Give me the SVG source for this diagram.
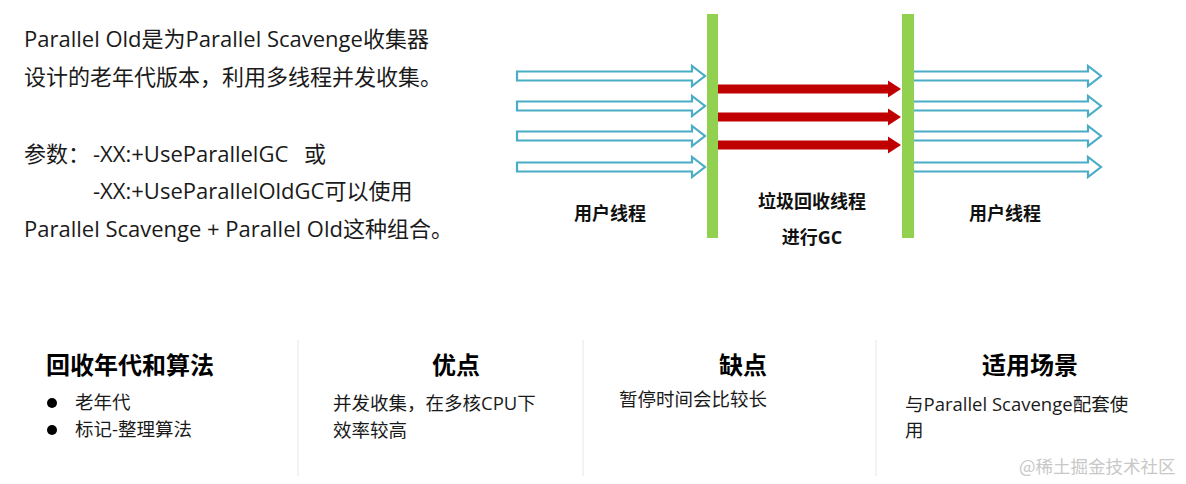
<svg xmlns="http://www.w3.org/2000/svg" width="1186" height="484" viewBox="0 0 1186 484">
<defs>
<style>
.t{font-family:"Open Sans","Noto Sans CJK SC",sans-serif;fill:#1a1a1a}
.main{font-size:22px}
.hd{font-size:24px;font-weight:bold;fill:#000}
.bd{font-size:18.5px}
.lb{font-size:18px;font-weight:bold;fill:#111;text-anchor:middle}
.bar{fill:#92D050}
.ua{fill:#fff;stroke:#4BACC6;stroke-width:2.2}
.ga{fill:#C00000}
.sep{stroke:#e6e6e6;stroke-width:1}
.wm{font-family:"Noto Sans CJK SC",sans-serif;font-size:17.5px;fill:#c8c8c8}
</style>
<polygon id="ua" points="0,-4.5 175,-4.5 175,-10 188,0 175,10 175,4.5 0,4.5"/>
<polygon id="ra" points="0,-4.5 170,-4.5 170,-8.5 183,0 170,8.5 170,4.5 0,4.5"/>
</defs>
<rect width="1186" height="484" fill="#fff"/>
<g id="intro">
<text class="t main" x="24" y="47">Parallel Old是为Parallel Scavenge收集器</text>
<text class="t main" x="24" y="85">设计的老年代版本，利用多线程并发收集。</text>
<text class="t main" x="24" y="162">参数：</text>
<text class="t main" x="93" y="162">-XX:+UseParallelGC</text>
<text class="t main" x="304" y="162">或</text>
<text class="t main" x="93" y="199">-XX:+UseParallelOldGC可以使用</text>
<text class="t main" x="24" y="237">Parallel Scavenge + Parallel Old这种组合。</text>
</g>
<g id="connectors">
<use href="#ua" class="ua" x="517" y="76"/>
<use href="#ua" class="ua" x="517" y="106"/>
<use href="#ua" class="ua" x="517" y="136"/>
<use href="#ua" class="ua" x="517" y="167"/>
<use href="#ra" class="ga" x="718" y="89"/>
<use href="#ra" class="ga" x="718" y="117"/>
<use href="#ra" class="ga" x="718" y="145"/>
<use href="#ua" class="ua" x="913" y="76"/>
<use href="#ua" class="ua" x="913" y="106"/>
<use href="#ua" class="ua" x="913" y="136"/>
<use href="#ua" class="ua" x="913" y="167"/>
</g>
<g id="bar-start"><rect class="bar" x="707" y="14" width="11" height="224"/></g>
<g id="bar-end"><rect class="bar" x="902" y="14" width="12" height="224"/></g>
<g id="label-user-1"><text class="t lb" x="610" y="220">用户线程</text></g>
<g id="label-gc"><text class="t lb" x="812" y="208">垃圾回收线程</text><text class="t lb" x="812" y="244">进行GC</text></g>
<g id="label-user-2"><text class="t lb" x="1005" y="220">用户线程</text></g>
<g id="separators">
<line class="sep" x1="298" y1="340" x2="298" y2="476"/>
<line class="sep" x1="583" y1="340" x2="583" y2="476"/>
<line class="sep" x1="876" y1="340" x2="876" y2="476"/>
</g>
<g id="col-generation">
<text class="t hd" x="46" y="374">回收年代和算法</text>
<circle cx="52" cy="403" r="5" fill="#000"/>
<circle cx="52" cy="430" r="5" fill="#000"/>
<text class="t bd" x="75" y="409">老年代</text>
<text class="t bd" x="75" y="436">标记-整理算法</text>
</g>
<g id="col-pros">
<text class="t hd" x="456" y="374" text-anchor="middle">优点</text>
<text class="t bd" x="333" y="410">并发收集，在多核CPU下</text>
<text class="t bd" x="333" y="437">效率较高</text>
</g>
<g id="col-cons">
<text class="t hd" x="743" y="374" text-anchor="middle">缺点</text>
<text class="t bd" x="619" y="406">暂停时间会比较长</text>
</g>
<g id="col-usage">
<text class="t hd" x="1030" y="374" text-anchor="middle">适用场景</text>
<text class="t bd" x="905" y="411">与Parallel Scavenge配套使</text>
<text class="t bd" x="905" y="437">用</text>
</g>
<text class="wm" x="1019" y="473">@稀土掘金技术社区</text>
</svg>
